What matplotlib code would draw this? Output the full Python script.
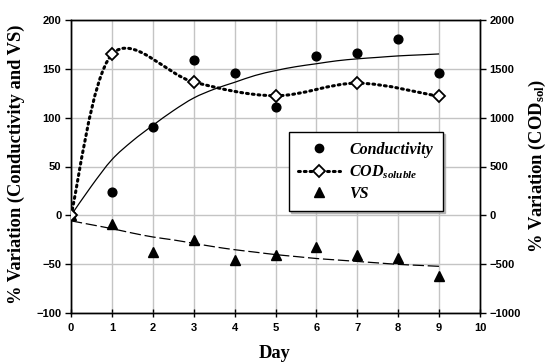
import numpy as np
import matplotlib
matplotlib.use("Agg")
import matplotlib.pyplot as plt
from matplotlib.path import Path
from matplotlib.patches import PathPatch
from matplotlib.lines import Line2D

plt.rcParams['font.family'] = ['Liberation Sans']
plt.rcParams['font.weight'] = 'bold'
plt.rcParams['mathtext.fontset'] = 'custom'
plt.rcParams['mathtext.rm'] = 'Liberation Serif:bold'
plt.rcParams['mathtext.it'] = 'Liberation Serif:bold:italic'
plt.rcParams['mathtext.bf'] = 'Liberation Serif:bold'

# ---- data ----
days = [0, 1, 2, 3, 4, 5, 6, 7, 8, 9]
conductivity = [0, 24, 90.5, 158.5, 145.5, 110.5, 163, 165.5, 180, 145.5]
vs = [0, -9, -37.5, -25, -46, -40, -32, -40.5, -43, -62]
cod_days = [0, 1, 3, 5, 7, 9]
cod = [0, 1645, 1363, 1223, 1352, 1216]

# trend curves
trend_x = [0, 0.5, 1, 1.5, 2, 2.5, 3, 3.5, 4, 4.5, 5, 5.5, 6, 6.5, 7, 7.5, 8, 8.5, 9]
cond_trend = [0, 30, 57, 76, 92, 107, 120, 129, 136, 143, 148, 152, 155, 158, 160, 161.5, 163, 164, 165]
vs_trend = [-5.5, -9.5, -13.5, -18, -22, -25, -28.5, -32, -35, -37.5, -40, -42, -44, -45.5, -47, -48.5, -50, -51, -52]

x_ticks = list(range(0, 11))
left_ticks = [-100, -50, 0, 50, 100, 150, 200]
right_ticks = [-1000, -500, 0, 500, 1000, 1500, 2000]


def smooth_path(xs, ys):
    pts = np.column_stack([xs, ys]).astype(float)
    n = len(pts)
    verts = [pts[0]]
    codes = [Path.MOVETO]
    for i in range(n - 1):
        p0 = pts[i - 1] if i > 0 else pts[i]
        p1 = pts[i]
        p2 = pts[i + 1]
        p3 = pts[i + 2] if i + 2 < n else pts[i + 1]
        c1 = p1 + (p2 - p0) / 6.0
        c2 = p2 - (p3 - p1) / 6.0
        verts += [c1, c2, p2]
        codes += [Path.CURVE4] * 3
    return Path(verts, codes)


W, H = 551, 364
fig = plt.figure(figsize=(W / 100, H / 100), dpi=100)
ax = fig.add_axes([71 / W, 1 - 313.3 / H, (480 - 71) / W, (313.3 - 19.7) / H])
ax2 = ax.twinx()

ax.set_xlim(0, 10)
ax.set_ylim(-100, 200)
ax2.set_ylim(-1000, 2000)
ax.set_xticks(x_ticks)
ax.set_yticks(left_ticks)
ax2.set_yticks(right_ticks)

ax.grid(True, color='#c4c4c4', linewidth=1.0)
ax.set_axisbelow(True)

ax.tick_params(axis='both', direction='out', length=4, width=1, color='black', pad=3, labelsize=8)
ax.tick_params(axis='x', direction='inout', length=6, pad=4)
ax2.tick_params(axis='y', direction='out', length=4, width=1, pad=3, labelsize=8)

for a in (ax, ax2):
    for s in a.spines.values():
        s.set_color('black')
        s.set_linewidth(1.0)

# trend lines
ax.add_patch(PathPatch(smooth_path(trend_x, cond_trend), fill=False, edgecolor='black', lw=0.9, zorder=3))
ax.add_patch(PathPatch(smooth_path(trend_x, vs_trend), fill=False, edgecolor='black', lw=0.9,
                       linestyle=(0, (9, 3)), zorder=3))

# points
ax.plot(days, conductivity, linestyle='none', marker='o', markersize=6.3, color='black', zorder=4)
ax.plot(days, vs, linestyle='none', marker='^', markersize=6.8, color='black', zorder=4)

# COD smoothed dotted line on right axis
ax2.add_patch(PathPatch(smooth_path(cod_days, cod), fill=False, edgecolor='black', lw=2.2,
                        linestyle=(0, (0.6, 1.3)), capstyle='round', zorder=3))
ax2.plot(cod_days, cod, linestyle='none', marker='D', markersize=6, markerfacecolor='white',
         markeredgecolor='black', markeredgewidth=1.3, zorder=5)

label_font = dict(family='Liberation Serif', weight='bold', size=13.3)
fig.text(16 / W, 1 - 164 / H, '% Variation (Conductivity and VS)', rotation=90,
         ha='center', va='center', **label_font)
fig.text(537 / W, 1 - 166 / H, '% Variation (COD$_{\\mathbf{sol}}$)', rotation=90,
         ha='center', va='center', **label_font)
fig.text(275 / W, 1 - 353 / H, 'Day', ha='center', va='center', **label_font)

handles = [
    Line2D([], [], linestyle='none', marker='o', markersize=6, color='black'),
    Line2D([], [], linestyle=(0, (0.6, 1.3)), lw=2.2, dash_capstyle='round', color='black', marker='D',
           markersize=6, markerfacecolor='white', markeredgecolor='black', markeredgewidth=1.3),
    Line2D([], [], linestyle='none', marker='^', markersize=6.5, color='black'),
]
labels = ['Conductivity', 'COD$_{\\mathit{soluble}}$', 'VS']
leg = ax2.legend(handles, labels, loc='upper left',
                 bbox_to_anchor=((288.5 - 71) / 409, (313.3 - 132.3) / 293.6),
                 prop=dict(family='Liberation Serif', weight='bold', style='italic', size=11.5),
                 frameon=True, fancybox=False,
                 shadow={'color': '#a0a0a0', 'alpha': 0.7, 'ox': 1.5, 'oy': -1.5},
                 edgecolor='black', framealpha=1, handlelength=2.6, borderpad=0.6,
                 labelspacing=0.33, handletextpad=0.6, borderaxespad=0)
leg.get_frame().set_linewidth(1.0)
leg.set_zorder(10)

fig.savefig('out.png', dpi=100)
